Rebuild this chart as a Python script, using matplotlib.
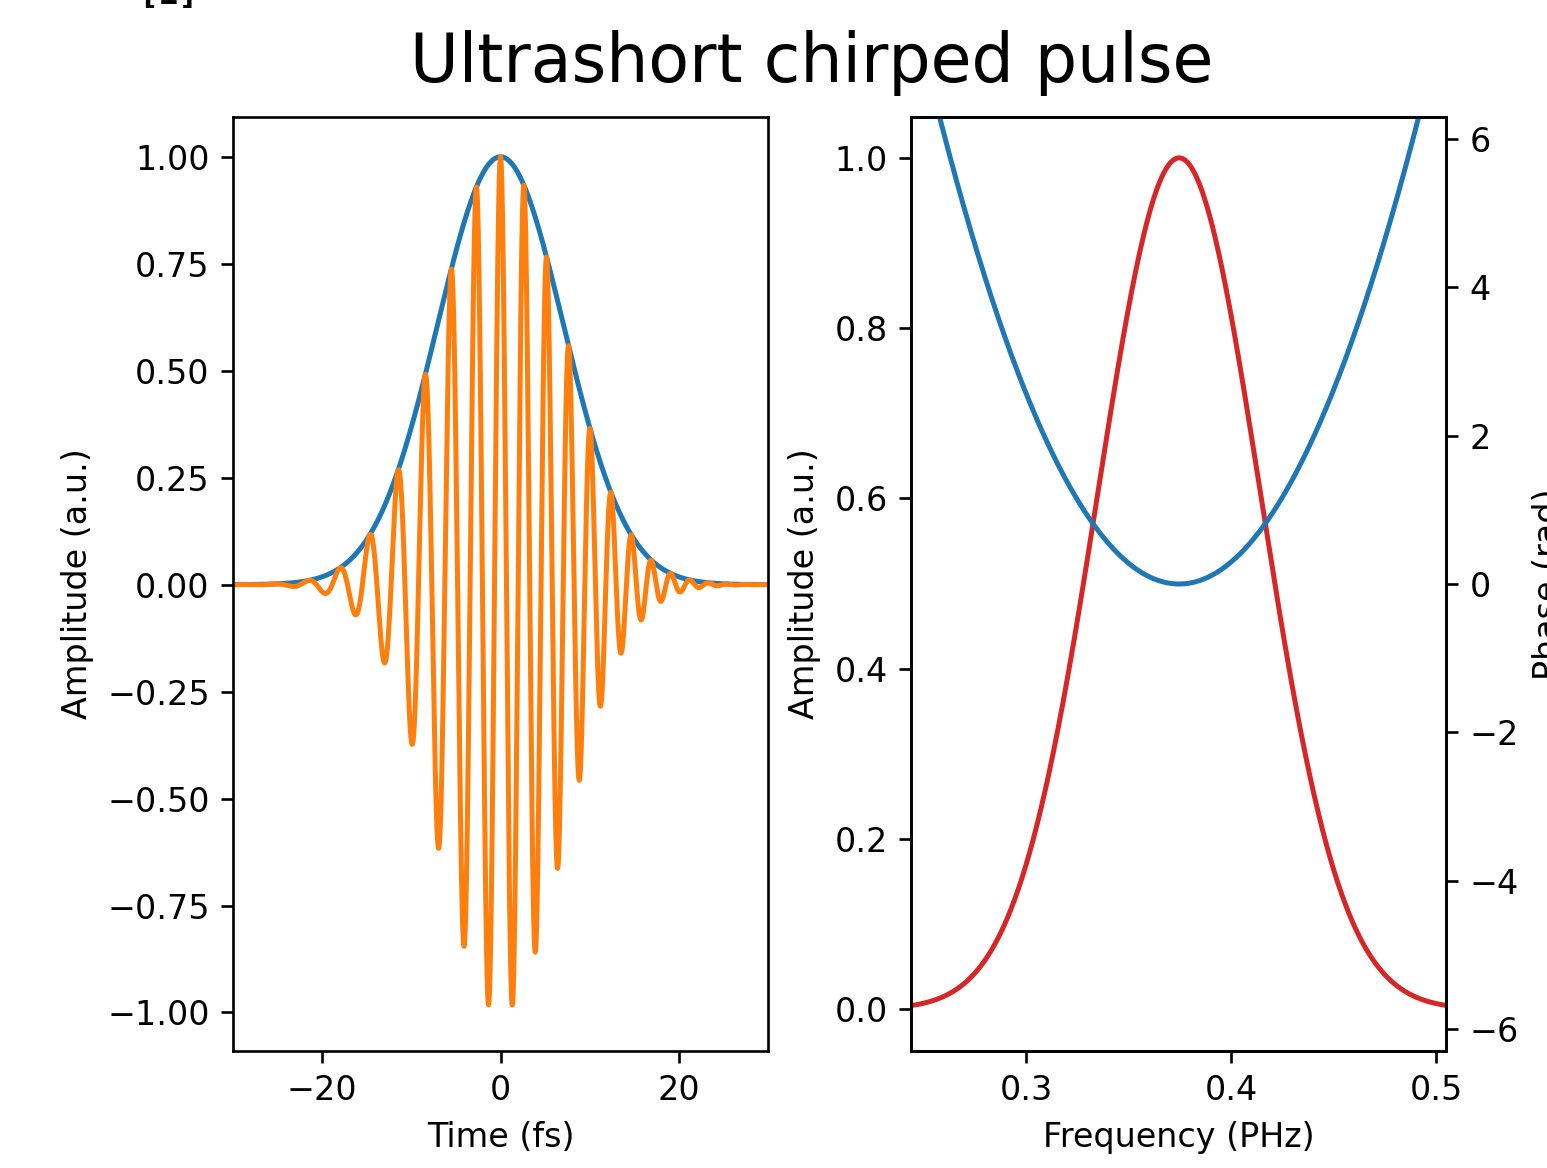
import numpy as np
import matplotlib
matplotlib.use("Agg")
import matplotlib.pyplot as plt

# ---- values ----
TAU_FS = 10.0          # Gaussian envelope 1/e half-width (fs)
F0_PHZ = 0.3747        # carrier / spectral centre frequency (PHz, ~800 nm)
CHIRP_RAD_FS2 = 0.0145 # linear chirp rate of carrier phase (rad/fs^2)

TIME_LIM = [-30, 30]
TIME_TICKS = [-20, 0, 20]
FREQ_LIM = [0.2439, 0.5049]
FREQ_TICKS = [0.3, 0.4, 0.5]
PHASE_LIM = [-6.3, 6.3]

TITLE = "Ultrashort chirped pulse"
XLABEL_T = "Time (fs)"
XLABEL_F = "Frequency (PHz)"
YLABEL_A = "Amplitude (a.u.)"
YLABEL_P = "Phase (rad)"

# ---- curves of the pulse model defined by the values above ----
t = np.linspace(TIME_LIM[0], TIME_LIM[1], 6000)
envelope = np.exp(-(t / TAU_FS) ** 2)
field = envelope * np.cos(2 * np.pi * F0_PHZ * t + CHIRP_RAD_FS2 * t ** 2)

f = np.linspace(FREQ_LIM[0], FREQ_LIM[1], 2000)
dw = 2 * np.pi * (f - F0_PHZ)
C = CHIRP_RAD_FS2 * TAU_FS ** 2
spec_amp = np.exp(-dw ** 2 * TAU_FS ** 2 / (4 * (1 + C ** 2)))
spec_phase = C * TAU_FS ** 2 / (4 * (1 + C ** 2)) * dw ** 2

# ---- figure ----
W, H = 1547, 1168
DPI = 240
fig = plt.figure(figsize=(W / DPI, H / DPI), dpi=DPI)

def frac(x0, y0, x1, y1):
    return [x0 / W, 1 - y1 / H, (x1 - x0) / W, (y1 - y0) / H]

ax1 = fig.add_axes(frac(233, 117, 768, 1051))
ax2 = fig.add_axes(frac(911, 117, 1446, 1051))

ax1.plot(t, envelope, color="C0", lw=1.5)
ax1.plot(t, field, color="C1", lw=1.5)
ax1.set_xlim(TIME_LIM)
ax1.set_xticks(TIME_TICKS)
ax1.set_ylim(-1.09, 1.093)
ax1.set_xlabel(XLABEL_T)
ax1.set_ylabel(YLABEL_A)

ax2.plot(f, spec_amp, color="C3", lw=1.5)
ax2.set_xlim(FREQ_LIM)
ax2.set_xticks(FREQ_TICKS)
ax2.set_ylim(-0.049, 1.048)
ax2.set_xlabel(XLABEL_F)
ax2.set_ylabel(YLABEL_A)

ax3 = ax2.twinx()
ax3.plot(f, spec_phase, color="C0", lw=1.5)
ax3.set_ylim(PHASE_LIM)
ax3.set_ylabel(YLABEL_P)

fig.text(812 / W, 1 - 82 / H, TITLE, ha="center", va="baseline", fontsize=20)
fig.text(138 / W, 1 - 4 / H, "[1]", ha="left", va="baseline",
         fontsize=10, weight="bold", family="DejaVu Sans Mono")

fig.savefig("out.png", dpi=DPI)
